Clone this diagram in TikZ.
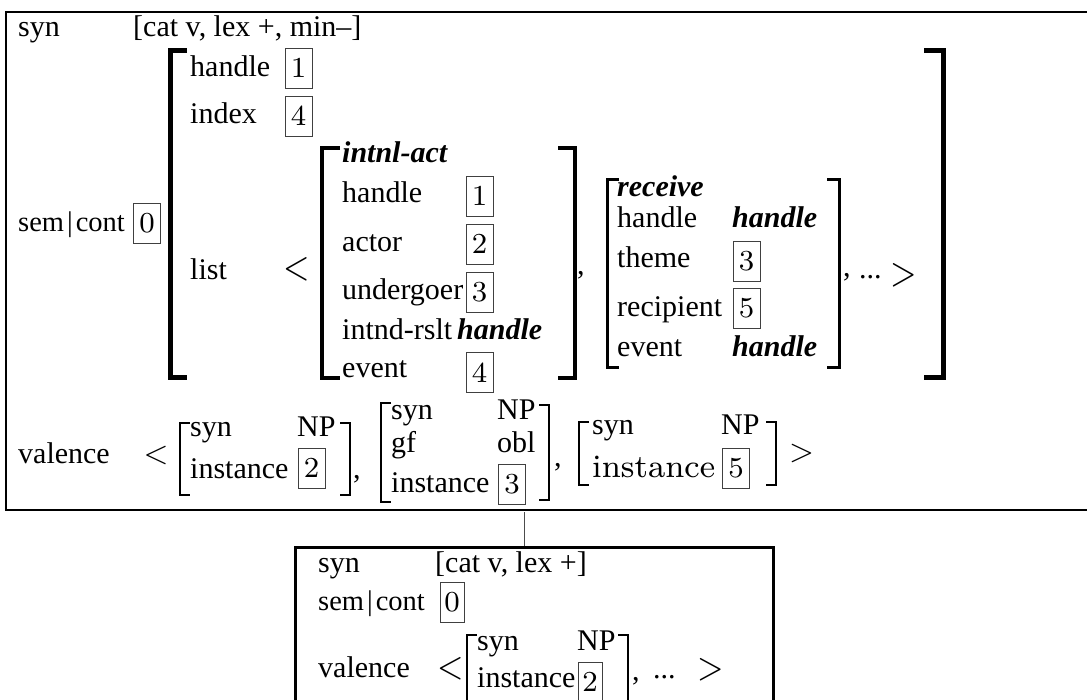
\documentclass[tikz,border=0pt]{standalone}
\usepackage{fontspec}
\setmainfont{Liberation Serif}
\newfontfamily\lmr[Extension=.otf]{lmroman10-regular}
\newfontfamily\lmrh[Extension=.otf]{lmroman8-regular}
\newcommand\myfs{\fontsize{30}{34}\selectfont}
\newcommand\digfs{\lmrh\fontsize{29}{29}\selectfont}
\newcommand\tallsym[2][1.2]{\scalebox{1}[#1]{#2}}
\newcommand\sembar{{\fontsize{28.5}{34}\selectfont sem\kern3pt|\kern3pt cont}}
\begin{document}
\begin{tikzpicture}[x=1pt,y=-1pt,
  txt/.style={anchor=base west, inner sep=0pt, font=\myfs},
  bi/.style={txt, font=\myfs\bfseries\itshape},
  num/.style={draw=black!75, line width=0.8pt, minimum width=27pt, minimum height=40pt, inner sep=0pt, font=\digfs},
  numS/.style={num, minimum width=24pt},
  lt/.style={inner sep=0pt, anchor=center, font=\lmr\fontsize{34}{34}\selectfont},
  ltv/.style={inner sep=0pt, anchor=center, font=\lmr\fontsize{32}{32}\selectfont},
  frame/.style={line width=2.5pt},
  brkA/.style={line width=5pt},
  brkB/.style={line width=4pt},
  brkC/.style={line width=3pt},
  brkD/.style={line width=1.5pt},
  conn/.style={line width=1pt, draw=black!70}]
\useasboundingbox (0,0) rectangle (1087,700);
% outer frame (open at right)
\draw[frame] (1087,12) -- (6,12) -- (6,510) -- (1087,510);
% top row
\node[txt] (syn) at (18,37) {syn};
\node[txt] (synval) at (133,37) {[cat v, lex +, min–]};
% big bracket
\draw[brkA] (187,51) -- (170,51) -- (170,378) -- (187,378);
\draw[brkA] (924,51) -- (943,51) -- (943,378) -- (924,378);
\node[txt] (hdl) at (190,77) {handle};
\node[num] (b1) at (298.5,68) {1};
\node[txt] (idx) at (190,124) {index};
\node[num] (b4) at (298.5,116) {4};
\node[txt] (sem) at (18,232) {\sembar};
\node[num] (b0) at (147,223) {0};
\node[txt] (lst) at (190,280) {list};
\node[lt] (lt1) at (296.5,269) {\tallsym{<}};
% intnl-act bracket
\draw[brkB] (340,148) -- (322,148) -- (322,378) -- (340,378);
\draw[brkB] (558,148) -- (575,148) -- (575,378) -- (558,378);
\node[bi] (ia) at (342,163) {intnl-act};
\node[txt] (ih) at (342,203) {handle};
\node[num] (ib1) at (479.5,196) {1};
\node[txt] (iac) at (342,252) {actor};
\node[num] (ib2) at (479.5,244) {2};
\node[txt] (iu) at (342,300) {undergoer};
\node[num] (ib3) at (479.5,292) {3};
\node[txt] (ir) at (342,340) {intnd-rslt};
\node[bi] (irv) at (457,340) {handle};
\node[txt] (ie) at (342,378) {event};
\node[num] (ib4) at (479.5,372.5) {4};
\node[txt] (c1) at (577,275) {,};
% receive bracket
\draw[brkC] (619,180) -- (607,180) -- (607,368) -- (619,368);
\draw[brkC] (827,180) -- (839,180) -- (839,368) -- (827,368);
\node[bi] (rc) at (617,197) {receive};
\node[txt] (rh) at (617,228) {handle};
\node[bi] (rhv) at (732,228) {handle};
\node[txt] (rt) at (617,268) {theme};
\node[num] (rb3) at (746.5,261) {3};
\node[txt] (rr) at (617,317) {recipient};
\node[num] (rb5) at (746.5,308) {5};
\node[txt] (re) at (617,357) {event};
\node[bi] (rev) at (732,357) {handle};
\node[txt] (c2) at (843,277) {,};
\node[txt] (dots1) at (859,279) {...};
\node[lt] (gt1) at (903.5,275) {\tallsym{>}};
% valence row
\node[txt] (val) at (18,463) {valence};
\node[ltv] (lt2) at (156,455) {<};
\draw[brkD] (190,423) -- (180,423) -- (180,495) -- (190,495);
\draw[brkD] (340,423) -- (350,423) -- (350,495) -- (340,495);
\node[txt] (v1s) at (190,436) {syn};
\node[txt] (v1n) at (297,436) {NP};
\node[txt] (v1i) at (190,478) {instance};
\node[num] (v1b) at (311.5,468) {2};
\node[txt] (c3) at (353,478) {,};
\draw[brkD] (391,403) -- (381,403) -- (381,502) -- (391,502);
\draw[brkD] (539,405) -- (549,405) -- (549,500) -- (539,500);
\node[txt] (v2s) at (391,420) {syn};
\node[txt] (v2n) at (497,420) {NP};
\node[txt] (v2g) at (391,452) {gf};
\node[txt] (v2o) at (497,452) {obl};
\node[txt] (v2i) at (391,492) {instance};
\node[num] (v2b) at (512,484) {3};
\node[txt] (c4) at (554,466) {,};
\draw[brkD] (589,422) -- (579,422) -- (579,485) -- (589,485);
\draw[brkD] (766,422) -- (776,422) -- (776,485) -- (766,485);
\node[txt] (v3s) at (592,435) {syn};
\node[txt] (v3n) at (721,435) {NP};
\node[txt, font=\lmrh\fontsize{32.5}{34}\selectfont] (v3i) at (592,477) {instance};
\node[num] (v3b) at (736,468) {5};
\node[ltv] (gt2) at (801.5,453.5) {>};
% connector and lower box
\coordinate (ctop) at (524,512);
\node[draw, frame, minimum width=478pt, minimum height=200pt, anchor=north west, inner sep=0pt] (low) at (294,546) {};
\draw[conn] (ctop) -- (ctop |- low.north);
\node[txt] (ls) at (318,572) {syn};
\node[txt] (lsv) at (435,572) {[cat v, lex +]};
\node[txt] (lsem) at (318,610) {\sembar};
\node[numS] (lb0) at (452,602) {0};
\node[txt] (lval) at (318,677) {valence};
\node[lt] (lt3) at (451,669) {\tallsym[1.15]{<}};
\draw[brkD] (477,635) -- (467,635) -- (467,712);
\draw[brkD] (618,635) -- (628,635) -- (628,712);
\node[txt] (lvs) at (477,650) {syn};
\node[txt] (lvn) at (577,650) {NP};
\node[txt] (lvi) at (477,687) {instance};
\node[numS] (lvb) at (590,682) {2};
\node[txt] (c5) at (632,680) {,};
\node[txt] (dots2) at (653,678) {...};
\node[lt] (gt3) at (711,669.5) {\tallsym[1.15]{>}};
\end{tikzpicture}
\end{document}
